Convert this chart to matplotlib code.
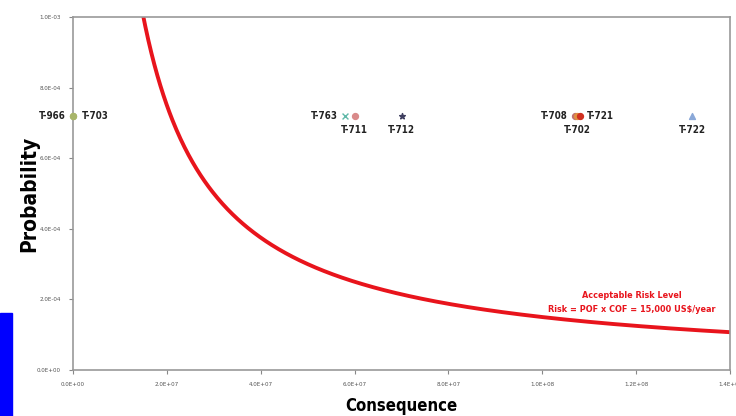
import numpy as np
import matplotlib
matplotlib.use("Agg")
import matplotlib.pyplot as plt
from matplotlib.patches import Rectangle
from matplotlib import font_manager as fm

# ---- data ----
tanks = ["T-966", "T-703", "T-763", "T-711", "T-712", "T-708", "T-702", "T-721", "T-722"]
consequence = [0.0, 0.0, 5.8e7, 6.0e7, 7.0e7, 1.07e8, 1.075e8, 1.08e8, 1.32e8]
probability = [7.2e-4] * 9
markers = ["o", "o", "x", "o", "*", "o", "o", "o", "^"]
colors = ["#a8b56a", "#a8b56a", "#5fb8a8", "#d98a8a", "#404060", "#c07070", "#e09040", "#d03020", "#8aa8d8"]
risk_limit = 15000.0
xticks = [0, 2e7, 4e7, 6e7, 8e7, 1e8, 1.2e8, 1.4e8]
xtick_labels = ["0.0E+00", "2.0E+07", "4.0E+07", "6.0E+07", "8.0E+07", "1.0E+08", "1.2E+08", "1.4E+08"]
yticks = [0, 2e-4, 4e-4, 6e-4, 8e-4, 1e-3]
ytick_labels = ["0.0E+00", "2.0E-04", "4.0E-04", "6.0E-04", "8.0E-04", "1.0E-03"]

names = {f.name for f in fm.fontManager.ttflist}
cond = "DejaVu Sans Condensed" if "DejaVu Sans Condensed" in names else None
if cond:
    fam = [cond, "DejaVu Sans"]
    st = "normal"
else:
    fam = ["DejaVu Sans"]
    st = "condensed"

fig = plt.figure(figsize=(7.36, 4.16), dpi=100)
ax = fig.add_axes([73/736, 1 - 370/416, 657/736, 353/416])

xc = np.linspace(1.2e7, 1.4e8, 600)
ax.plot(xc, risk_limit / xc, color="#e8141c", lw=2.8, zorder=2)

for x, y, m, c in zip(consequence, probability, markers, colors):
    ax.scatter([x], [y], marker=m, color=c, s=18, zorder=3, clip_on=False, linewidths=1)

lab = dict(fontsize=7, fontweight="bold", color="#222222", family=fam, stretch=st)
ax.text(-0.15e7, 7.2e-4, "T-966", ha="right", va="center", **lab)
ax.text(0.19e7, 7.2e-4, "T-703", ha="left", va="center", **lab)
ax.text(5.65e7, 7.2e-4, "T-763", ha="right", va="center", **lab)
ax.text(6.0e7, 6.8e-4, "T-711", ha="center", va="center", **lab)
ax.text(7.0e7, 6.8e-4, "T-712", ha="center", va="center", **lab)
ax.text(1.055e8, 7.2e-4, "T-708", ha="right", va="center", **lab)
ax.text(1.095e8, 7.2e-4, "T-721", ha="left", va="center", **lab)
ax.text(1.075e8, 6.8e-4, "T-702", ha="center", va="center", **lab)
ax.text(1.32e8, 6.8e-4, "T-722", ha="center", va="center", **lab)

ann = dict(fontsize=6.5, fontweight="bold", color="#e8141c", family=fam, stretch=st,
           ha="center", va="center")
ax.text(1.19e8, 2.12e-4, "Acceptable Risk Level", **ann)
ax.text(1.19e8, 1.72e-4, "Risk = POF x COF = 15,000 US$/year", **ann)

ax.set_xlim(0, 1.4e8)
ax.set_ylim(0, 1e-3)
ax.set_xticks(xticks)
ax.set_xticklabels(xtick_labels, fontsize=4.5, color="#555555", family=fam, stretch=st)
ax.set_yticks(yticks)
ax.set_yticklabels(ytick_labels, fontsize=4.5, color="#555555", family=fam, stretch=st)
ax.tick_params(length=3, width=0.8, color="#888888", pad=6)
for s in ax.spines.values():
    s.set_color("#999999")
    s.set_linewidth(1.2)

ax.set_xlabel("Consequence", fontsize=12, fontweight="bold", family=fam, stretch=st, labelpad=7)
ax.set_ylabel("Probability", fontsize=15, fontweight="bold", family=fam, stretch=st, labelpad=-2)

fig.patches.append(Rectangle((0, 0), 12/736, 103/416, transform=fig.transFigure,
                             color="#0000ff", zorder=5))

fig.savefig("out.png", dpi=100)
